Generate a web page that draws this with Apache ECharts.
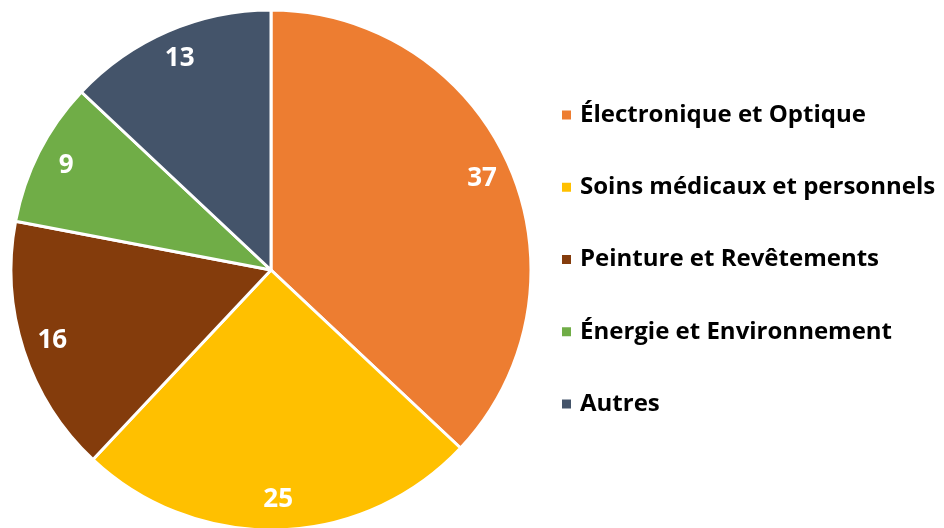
<!DOCTYPE html>
<html>
<head>
<meta charset="utf-8">
<script src="https://cdn.jsdelivr.net/npm/echarts@6/dist/echarts.min.js"></script>
<style>
  html, body { margin: 0; padding: 0; background: #fff; }
  #chart { width: 944px; height: 528px; }
</style>
</head>
<body>
<div id="chart"></div>
<script>
const categories = [
  "Électronique et Optique",
  "Soins médicaux et personnels",
  "Peinture et Revêtements",
  "Énergie et Environnement",
  "Autres",
];
const values = [37, 25, 16, 9, 13];
const colors = ["#ED7D31", "#FFC000", "#843C0C", "#70AD47", "#44546A"];

const chart = echarts.init(document.getElementById("chart"));
const pieData = categories.map((name, i) => ({
  name: name,
  value: values[i],
  itemStyle: { color: colors[i] },
}));

chart.setOption({
  animation: false,
  legend: {
    orient: "vertical",
    left: 555,
    top: 97,
    icon: "rect",
    itemWidth: 11,
    itemHeight: 11,
    itemGap: 46.25,
    selectedMode: false,
    data: categories,
    textStyle: {
      fontFamily: "Open Sans",
      fontWeight: "bold",
      fontSize: 24,
      lineHeight: 26,
      color: "#000",
      padding: [0, 0, 0, 3],
    },
  },
  series: [
    {
      type: "pie",
      center: [271, 270],
      radius: [0, 260],
      startAngle: 90,
      clockwise: true,
      silent: true,
      itemStyle: { borderColor: "#fff", borderWidth: 3 },
      label: { show: false },
      labelLine: { show: false },
      data: pieData,
    },
    {
      // transparent ring only used to place labels further out
      type: "pie",
      center: [271, 270],
      radius: [192, 262],
      startAngle: 90,
      clockwise: true,
      silent: true,
      legendHoverLink: false,
      itemStyle: { color: "rgba(0,0,0,0)", borderWidth: 0 },
      label: {
        show: true,
        position: "inside",
        formatter: "{c}",
        color: "#fff",
        fontFamily: "Open Sans",
        fontWeight: "bold",
        fontSize: 26,
      },
      labelLine: { show: false },
      data: categories.map((name, i) => ({ name: name + " ", value: values[i] })),
    },
  ],
});
</script>
</body>
</html>
